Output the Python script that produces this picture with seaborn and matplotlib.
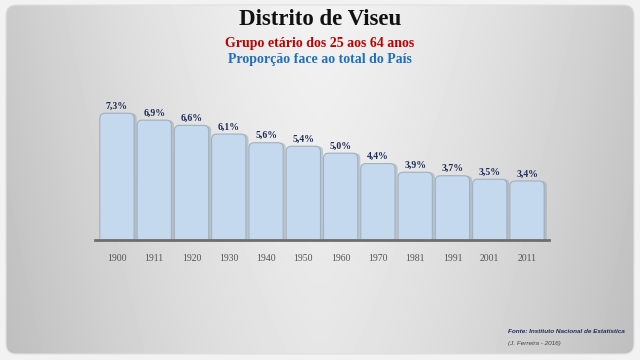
import numpy as np
import pandas as pd
import seaborn as sns
import matplotlib.pyplot as plt
from matplotlib.patches import FancyBboxPatch

years = ['1900', '1911', '1920', '1930', '1940', '1950', '1960', '1970', '1981', '1991', '2001', '2011']
shares = [7.3, 6.9, 6.6, 6.1, 5.6, 5.4, 5.0, 4.4, 3.9, 3.7, 3.5, 3.4]

df = pd.DataFrame({'ano': years, 'pct': shares})

sns.set_style('white')
plt.rcParams['font.family'] = ['Liberation Serif', 'DejaVu Serif']

fig = plt.figure(figsize=(6.4, 3.6), dpi=100, facecolor='#f2f2f2')

# rounded panel with horizontal gradient
bg = fig.add_axes([0, 0, 1, 1], zorder=-10)
bg.set_xlim(0, 640)
bg.set_ylim(360, 0)
bg.axis('off')
yy, xx = np.mgrid[0:1:360j, 0:1:640j]
shade = 0.95 - 0.16 * (np.abs(xx - 0.5) / 0.5) ** 1.4 - 0.05 * yy
img = bg.imshow(shade, cmap='gray', vmin=0, vmax=1, aspect='auto', extent=[0, 640, 360, 0])
panel = FancyBboxPatch((6, 5), 628, 349, boxstyle='round,pad=0,rounding_size=10',
                       facecolor='none', edgecolor='#e0e0e0', lw=0.8, transform=bg.transData)
bg.add_patch(panel)
img.set_clip_path(panel)

ax = fig.add_axes([0.1478, 0.3333, 0.7106, 0.386])
ax.set_facecolor('none')

sns.barplot(data=df, x='ano', y='pct', color='#c5d9ee', width=0.92, saturation=1, ax=ax)

# swap seaborn's plain bars for rounded ones with a soft shadow
aspect = (0.7106 * 640 / 12.2) / (0.386 * 360 / 8)
for p in list(ax.patches):
    x0, w, h = p.get_x(), p.get_width(), p.get_height()
    p.set_visible(False)
    shadow = FancyBboxPatch((x0 + 0.07, -0.4), w, h + 0.4,
                            boxstyle='round,pad=0,rounding_size=0.14', mutation_aspect=aspect,
                            facecolor='#8f9aa5', edgecolor='none', alpha=0.45, zorder=1)
    bar = FancyBboxPatch((x0, -0.4), w, h + 0.4,
                         boxstyle='round,pad=0,rounding_size=0.14', mutation_aspect=aspect,
                         facecolor='#c5d9ee', edgecolor='#9fb0c0', lw=0.8, zorder=2)
    ax.add_patch(shadow)
    ax.add_patch(bar)

for i, v in enumerate(shares):
    ax.text(i, v + 0.15, f'{v:.1f}%'.replace('.', ','), ha='center', va='bottom',
            fontsize=7, fontweight='bold', color='#1f2d5a')

ax.set_xlim(-0.6, 11.6)
ax.set_ylim(0, 8)
ax.set_yticks([])
ax.set_xlabel('')
ax.set_ylabel('')
ax.tick_params(axis='x', length=0, pad=10, labelsize=7, labelcolor='#555555')
for s in ['top', 'right', 'left']:
    ax.spines[s].set_visible(False)
ax.spines['bottom'].set_color('#6e6e6e')
ax.spines['bottom'].set_linewidth(2)
ax.spines['bottom'].set_zorder(5)

fig.text(0.5, 0.945, 'Distrito de Viseu', ha='center', va='center', fontsize=16.5,
         fontweight='bold', color='#111111')
fig.text(0.5, 0.88, 'Grupo etário dos 25 aos 64 anos', ha='center', va='center',
         fontsize=10, fontweight='bold', color='#c00000')
fig.text(0.5, 0.835, 'Proporção face ao total do País', ha='center', va='center',
         fontsize=10, fontweight='bold', color='#1f6fc0')

fig.text(0.794, 0.075, 'Fonte: Instituto Nacional de Estatística', fontsize=4.6,
         fontweight='bold', style='italic', color='#1f2d5a', family=['Liberation Sans'])
fig.text(0.794, 0.043, '(J. Ferreira - 2016)', fontsize=4.6, style='italic',
         color='#444444', family=['Liberation Sans'])

fig.savefig('out.png', dpi=100, facecolor=fig.get_facecolor())
